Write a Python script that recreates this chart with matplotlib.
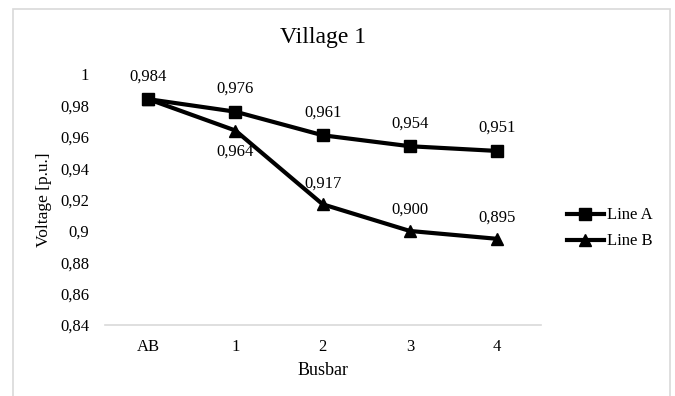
import matplotlib.pyplot as plt
from matplotlib.patches import Rectangle
from matplotlib.ticker import FuncFormatter

plt.rcParams['font.family'] = ['Liberation Serif', 'DejaVu Serif']

# busbar voltages along each line [p.u.]
busbars = ['AB', '1', '2', '3', '4']
line_a = [0.984, 0.976, 0.961, 0.954, 0.951]
line_b = [0.984, 0.964, 0.917, 0.900, 0.895]
labels_a = ['0,984', '0,976', '0,961', '0,954', '0,951']
labels_b = ['', '0,964', '0,917', '0,900', '0,895']
# label placement for line B: +1 above, -1 below
side_b = [1, -1, 1, 1, 1]

fig = plt.figure(figsize=(6.75, 3.96), dpi=100)
ax = fig.add_axes([0.155, 0.179, 0.646, 0.634])

x = list(range(len(busbars)))
ax.plot(x, line_a, color='black', lw=3, marker='s', ms=8.5, label='Line A')
ax.plot(x, line_b, color='black', lw=3, marker='^', ms=8.5, label='Line B')

for xi, v, t in zip(x, line_a, labels_a):
    ax.annotate(t, (xi, v), xytext=(0, 16.5), textcoords='offset points',
                ha='center', va='center', fontsize=12)
for xi, v, t, s in zip(x, line_b, labels_b, side_b):
    if t:
        ax.annotate(t, (xi, v), xytext=(0, 15 * s), textcoords='offset points',
                    ha='center', va='center', fontsize=12)

ax.set_xlim(-0.5, len(busbars) - 0.5)
ax.set_ylim(0.84, 1.0)
ax.set_xticks(x)
ax.set_xticklabels(busbars)
ax.set_yticks([0.84 + 0.02 * i for i in range(9)])
ax.yaxis.set_major_formatter(FuncFormatter(
    lambda v, p: ('%.2f' % v).rstrip('0').rstrip('.').replace('.', ',')))
ax.tick_params(axis='y', length=0, labelsize=12, pad=11)
ax.tick_params(axis='x', length=0, labelsize=12, pad=10)

for s in ['top', 'right', 'left']:
    ax.spines[s].set_visible(False)
ax.spines['bottom'].set_color('#d9d9d9')
ax.spines['bottom'].set_linewidth(1.2)

ax.set_title('Village 1', fontsize=17, pad=22)
ax.set_xlabel('Busbar', fontsize=13, labelpad=5)
ax.set_ylabel('Voltage [p.u.]', fontsize=12.5, labelpad=6)

ax.legend(loc='center left', bbox_to_anchor=(1.025, 0.385), frameon=False,
          fontsize=12, handlelength=2.25, handletextpad=0.15, labelspacing=0.6)

# chart area border
fig.patches.append(Rectangle((0.019, -0.02), 0.974, 0.997, transform=fig.transFigure,
                             fill=False, edgecolor='#d9d9d9', lw=1.2))

fig.savefig('out.png', dpi=100)
